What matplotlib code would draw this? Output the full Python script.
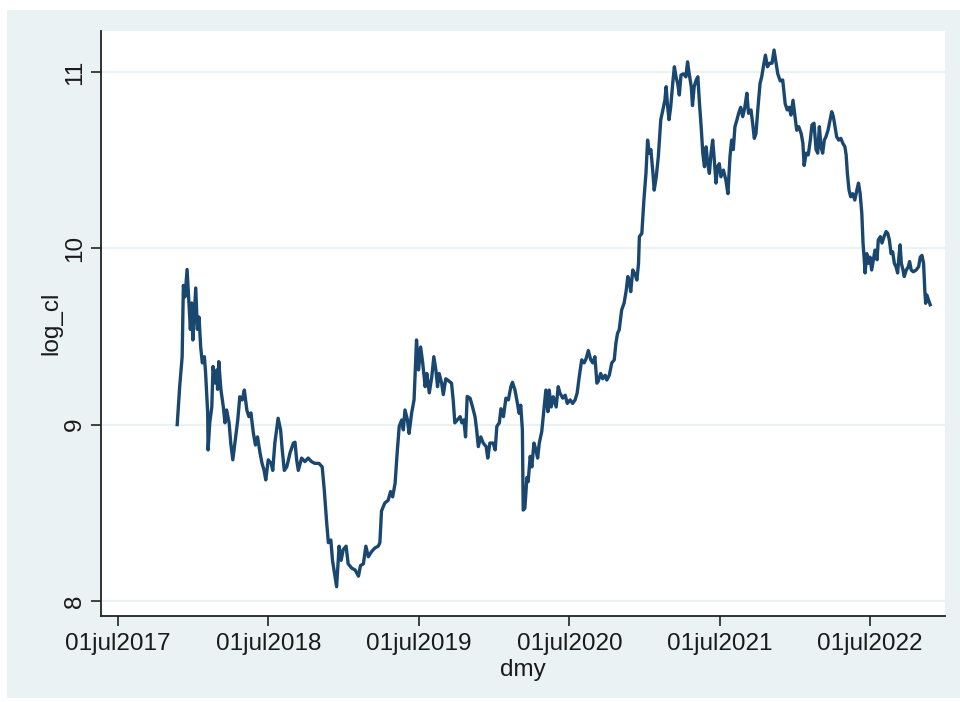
import matplotlib
matplotlib.use("Agg")
import matplotlib.pyplot as plt
from matplotlib.patches import Rectangle

# Stata daily dates (days since 01jan1960) and log closing price
dmy = [
    21145, 21151, 21157, 21160, 21164, 21169, 21173, 21177, 21180, 21183,
    21190, 21194, 21198, 21202, 21206, 21211, 21214, 21219, 21220, 21224,
    21229, 21232, 21237, 21241, 21243, 21246, 21251, 21257, 21261, 21265,
    21271, 21275, 21280, 21285, 21292, 21297, 21303, 21308, 21314, 21319,
    21324, 21330, 21335, 21340, 21346, 21351, 21356, 21360, 21366, 21373,
    21377, 21382, 21390, 21396, 21400, 21405, 21411, 21419, 21427, 21431,
    21435, 21439, 21447, 21455, 21463, 21471, 21479, 21489, 21497, 21502,
    21508, 21512, 21518, 21522, 21528, 21532, 21538, 21543, 21548, 21555,
    21560, 21569, 21577, 21585, 21590, 21597, 21603, 21609, 21617, 21625,
    21633, 21637, 21641, 21649, 21657, 21663, 21668, 21674, 21679, 21684,
    21690, 21694, 21698, 21704, 21708, 21714, 21720, 21726, 21731, 21736,
    21741, 21747, 21751, 21757, 21763, 21768, 21773, 21777, 21781, 21787,
    21791, 21797, 21803, 21811, 21815, 21819, 21825, 21832, 21836, 21841,
    21845, 21849, 21856, 21862, 21868, 21872, 21876, 21882, 21888, 21895,
    21899, 21904, 21912, 21917, 21921, 21927, 21931, 21937, 21943, 21949,
    21955, 21959, 21965, 21971, 21975, 21979, 21983, 21985, 21989, 21994,
    21997, 22002, 22006, 22011, 22016, 22020, 22024, 22030, 22036, 22040,
    22045, 22048, 22053, 22058, 22065, 22070, 22074, 22081, 22087, 22092,
    22099, 22105, 22111, 22116, 22121, 22127, 22133, 22138, 22143, 22149,
    22154, 22159, 22164, 22167, 22173, 22178, 22184, 22188, 22194, 22200,
    22206, 22210, 22214, 22218, 22224, 22230, 22235, 22239, 22243, 22246,
    22251, 22257, 22261, 22265, 22267, 22273, 22278, 22283, 22287, 22291,
    22295, 22300, 22303, 22308, 22313, 22319, 22324, 22329, 22332, 22335,
    22339, 22343, 22348, 22352, 22356, 22360, 22364, 22368, 22374, 22380,
    22384, 22388, 22393, 22396, 22400, 22405, 22409, 22413, 22417, 22421,
    22425, 22429, 22433, 22437, 22441, 22445, 22449, 22453, 22457, 22461,
    22465, 22471, 22477, 22482, 22487, 22491, 22495, 22499, 22504, 22508,
    22513, 22518, 22523, 22528, 22532, 22538, 22542, 22546, 22550, 22555,
    22560, 22564, 22568, 22573, 22578, 22583, 22589, 22594, 22599, 22603,
    22609, 22615, 22621, 22626, 22631, 22635, 22640, 22644, 22649, 22654,
    22660, 22664, 22667, 22672, 22677, 22682, 22686, 22691, 22696, 22700,
    22704, 22708, 22712, 22716, 22720, 22725, 22730, 22734, 22738, 22742,
    22746, 22751, 22756, 22761, 22766, 22769, 22772, 22776, 22780, 22785,
    22790, 22795, 22799, 22803, 22807, 22810, 22813, 22815, 22819, 22823,
    22827, 22831, 22835, 22839, 22844, 22847, 22852, 22856, 22861, 22866,
    22870, 22874, 22878, 22882, 22886, 22890, 22894, 22897, 22900, 22903,
    22907, 22910, 22915, 22920, 22923, 22927, 22932, 22939, 22945, 22949,
    22953, 22957, 22960, 22962, 22965, 22969, 22973,
]

log_cl = [
    9.00, 9.215, 9.385, 9.79, 9.725, 9.88, 9.71, 9.54, 9.69, 9.48,
    9.775, 9.54, 9.61, 9.44, 9.35, 9.385, 9.29, 9.066, 8.856, 9.01,
    9.10, 9.33, 9.236, 9.31, 9.20, 9.357, 9.20, 9.10, 9.01, 9.083,
    9.01, 8.895, 8.80, 8.895, 9.026, 9.158, 9.14, 9.196, 9.083, 9.045,
    9.066, 8.95, 8.884, 8.93, 8.84, 8.78, 8.74, 8.686, 8.80, 8.78,
    8.74, 8.895, 9.036, 8.97, 8.856, 8.74, 8.76, 8.84, 8.895, 8.90,
    8.80, 8.74, 8.81, 8.79, 8.81, 8.79, 8.78, 8.78, 8.76, 8.63,
    8.44, 8.33, 8.345, 8.23, 8.14, 8.08, 8.31, 8.23, 8.29, 8.31,
    8.21, 8.185, 8.175, 8.14, 8.20, 8.21, 8.31, 8.25, 8.28, 8.30,
    8.31, 8.33, 8.51, 8.555, 8.57, 8.62, 8.59, 8.667, 8.84, 8.99,
    9.026, 8.97, 9.083, 9.026, 8.95, 9.064, 9.14, 9.48, 9.31, 9.44,
    9.35, 9.215, 9.29, 9.18, 9.27, 9.385, 9.31, 9.215, 9.29, 9.235,
    9.17, 9.26, 9.25, 9.235, 9.14, 9.01, 9.026, 9.045, 9.01, 9.026,
    8.93, 9.16, 9.15, 9.10, 9.045, 8.97, 8.875, 8.93, 8.895, 8.875,
    8.81, 8.895, 8.895, 8.856, 8.99, 9.01, 9.09, 9.045, 9.15, 9.14,
    9.215, 9.24, 9.196, 9.12, 9.064, 9.11, 8.97, 8.515, 8.525, 8.70,
    8.676, 8.82, 8.76, 8.895, 8.856, 8.81, 8.895, 8.96, 9.10, 9.196,
    9.073, 9.196, 9.10, 9.158, 9.10, 9.215, 9.18, 9.15, 9.167, 9.12,
    9.14, 9.12, 9.14, 9.18, 9.27, 9.367, 9.35, 9.376, 9.42, 9.367,
    9.35, 9.385, 9.235, 9.245, 9.29, 9.26, 9.28, 9.253, 9.28, 9.35,
    9.367, 9.46, 9.518, 9.537, 9.65, 9.69, 9.76, 9.84, 9.81, 9.754,
    9.877, 9.85, 9.82, 9.915, 10.066, 10.085, 10.274, 10.425, 10.614, 10.54,
    10.56, 10.425, 10.33, 10.406, 10.52, 10.73, 10.785, 10.84, 10.917, 10.82,
    10.73, 10.80, 10.936, 11.03, 10.973, 10.936, 10.87, 10.983, 10.99, 10.973,
    11.058, 10.99, 10.917, 10.81, 10.917, 10.955, 10.973, 10.82, 10.69, 10.54,
    10.463, 10.576, 10.48, 10.425, 10.54, 10.614, 10.50, 10.37, 10.463, 10.48,
    10.406, 10.444, 10.387, 10.31, 10.52, 10.614, 10.56, 10.69, 10.73, 10.766,
    10.80, 10.747, 10.80, 10.88, 10.766, 10.785, 10.71, 10.624, 10.65, 10.80,
    10.936, 10.973, 11.03, 11.096, 11.03, 11.05, 11.05, 11.125, 11.05, 10.99,
    10.95, 10.955, 10.82, 10.785, 10.80, 10.756, 10.84, 10.766, 10.67, 10.69,
    10.65, 10.596, 10.47, 10.54, 10.53, 10.614, 10.70, 10.71, 10.56, 10.54,
    10.69, 10.576, 10.54, 10.614, 10.633, 10.67, 10.73, 10.775, 10.747, 10.69,
    10.633, 10.614, 10.624, 10.596, 10.576, 10.53, 10.425, 10.33, 10.293, 10.31,
    10.274, 10.33, 10.37, 10.31, 10.20, 10.03, 9.935, 9.86, 9.97, 9.915,
    9.95, 9.877, 9.935, 9.99, 9.935, 10.047, 10.066, 10.03, 10.066, 10.095,
    10.085, 10.047, 9.97, 9.98, 9.915, 9.896, 9.86, 9.95, 10.02, 9.915,
    9.877, 9.84, 9.877, 9.896, 9.925, 9.877, 9.867, 9.877, 9.896, 9.95,
    9.96, 9.915, 9.76, 9.688, 9.735, 9.707, 9.68,
]

# 01jul of each year as Stata daily dates
x_ticks = [21001, 21366, 21731, 22097, 22462, 22827]
x_tick_labels = ["01jul2017", "01jul2018", "01jul2019",
                 "01jul2020", "01jul2021", "01jul2022"]
y_ticks = [8, 9, 10, 11]

LINE = "#1a476f"
REGION = "#eaf2f3"
GRID = "#eaf2f3"

plt.rcParams["font.family"] = ["Liberation Sans", "DejaVu Sans"]

fig = plt.figure(figsize=(9.6, 7.02), dpi=100)
fig.patch.set_facecolor("white")
# graph region band behind the plot area
fig.patches.append(Rectangle((7 / 960, 1 - 698 / 702), 953 / 960, 688 / 702,
                             transform=fig.transFigure, facecolor=REGION,
                             edgecolor="none", zorder=-10))

ax = fig.add_axes([101 / 960, 1 - 616 / 702, 844 / 960, 585 / 702])
ax.set_zorder(5)
ax.set_facecolor("white")

ax.plot(dmy, log_cl, color=LINE, linewidth=2.4, solid_joinstyle="round", zorder=3)

ax.set_xlim(20960, 23009)
ax.set_ylim(7.914, 11.233)

ax.set_xticks(x_ticks)
ax.set_xticklabels(x_tick_labels)
ax.set_yticks(y_ticks)
ax.set_yticklabels([str(v) for v in y_ticks], rotation=90, va="center")

ax.grid(axis="y", color=GRID, linewidth=1.6, zorder=1)
ax.grid(axis="x", visible=False)

for side in ("top", "right"):
    ax.spines[side].set_visible(False)
for side in ("left", "bottom"):
    ax.spines[side].set_color("#222222")
    ax.spines[side].set_linewidth(1.3)

ax.tick_params(axis="both", colors="#222222", labelcolor="#1a1a1a",
               labelsize=17.5, length=7, width=1.2)
ax.tick_params(axis="x", pad=5)
ax.tick_params(axis="y", pad=4)

ax.set_xlabel("dmy", fontsize=17.5, color="#1a1a1a", labelpad=3)
ax.set_ylabel("log_cl", fontsize=17.5, color="#1a1a1a", labelpad=1)

fig.savefig("out.png", dpi=100)
